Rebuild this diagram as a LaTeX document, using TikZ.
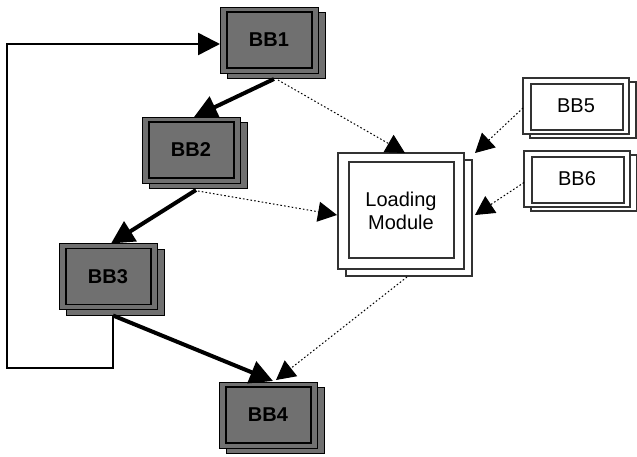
\documentclass[tikz,border=0pt]{standalone}
\usepackage{fontspec}
\setmainfont{Liberation Sans}
\usetikzlibrary{arrows.meta,shadows}
\definecolor{boxgray}{RGB}{112,112,112}
\definecolor{linegray}{RGB}{50,50,50}
\tikzset{
  inset/.style n args={6}{path picture={\draw[line width=#5,draw=#6]
      ([shift={(#1pt,-#2pt)}]path picture bounding box.north west) rectangle
      ([shift={(-#3pt,#4pt)}]path picture bounding box.south east);}},
  bbdark/.style={draw=black, line width=1pt, fill=boxgray, outer sep=0pt, inner sep=0pt,
      minimum width=98pt, minimum height=66pt,
      font=\bfseries\fontsize{20}{23}\selectfont,
      general shadow={shadow xshift=7pt, shadow yshift=-5.5pt, fill=boxgray, draw=black, line width=1pt},
      inset={7}{5}{6}{5}{1.8pt}{black}},
  bblight/.style={draw=linegray, line width=2pt, fill=white, outer sep=0pt, inner sep=0pt,
      minimum width=106pt, minimum height=56pt,
      font=\fontsize{20}{23}\selectfont,
      general shadow={shadow xshift=7pt, shadow yshift=-4pt, fill=white, draw=linegray, line width=2pt},
      inset={8}{6}{6}{4}{2pt}{linegray}},
  loadbox/.style={draw=linegray, line width=2pt, fill=white, outer sep=0pt, inner sep=0pt,
      minimum width=126pt, minimum height=116pt, align=center,
      font=\fontsize{20}{23}\selectfont,
      general shadow={shadow xshift=8pt, shadow yshift=-7pt, fill=white, draw=linegray, line width=2pt},
      inset={11}{9}{10}{11}{2pt}{linegray}},
  flow/.style={draw=black, line width=4pt, -{Triangle[length=23pt,width=23pt]}},
  loopline/.style={draw=black, line width=2.5pt, -{Triangle[length=22pt,width=22pt]}},
  dotflow/.style={draw=black, line width=1pt, dash pattern=on 1.6pt off 2.2pt,
      -{Triangle[length=19pt,width=20pt]}}
}
\begin{document}
\begin{tikzpicture}[x=1pt,y=-1pt]
\useasboundingbox (0,0) rectangle (637,456);
\node[bbdark] (BB1) at (269,40) {BB1};
\node[bbdark] (BB2) at (191,150) {BB2};
\node[bbdark] (BB3) at (108,276.5) {BB3};
\node[bbdark] (BB4) at (268,415) {BB4};
\node[loadbox] (LM) at (401,211) {Loading\\Module};
\node[bblight] (BB5) at (576,106) {BB5};
\node[bblight] (BB6) at (577,178.5) {BB6};
\coordinate (b3) at ([shift={(5,6)}]BB3.south);
\coordinate (loopc) at (7,368);
% loop back
\draw[loopline] (b3) |- (loopc) |- ([shift={(0,4)}]BB1.west);
% main flow
\draw[flow] ([shift={(5,6)}]BB1.south) -- ([shift={(3,0)}]BB2.north);
\draw[flow] ([shift={(5,7)}]BB2.south) -- ([shift={(3,0)}]BB3.north);
\draw[flow] (b3) -- ([shift={(5,-1)}]BB4.north);
% dotted links
\draw[dotflow] ([shift={(9,7)}]BB1.south) -- ([shift={(4,0)}]LM.north);
\draw[dotflow] ([shift={(7,8)}]BB2.south) -- ([shift={(-1,4)}]LM.west);
\draw[dotflow] ([shift={(0,2)}]BB5.west) -- ([shift={(11,0)}]LM.north east);
\draw[dotflow] ([shift={(0,4)}]BB6.west) -- ([shift={(11,4)}]LM.east);
\draw[dotflow] ([shift={(6,8)}]LM.south) -- ([shift={(8,-2)}]BB4.north);
\end{tikzpicture}
\end{document}
